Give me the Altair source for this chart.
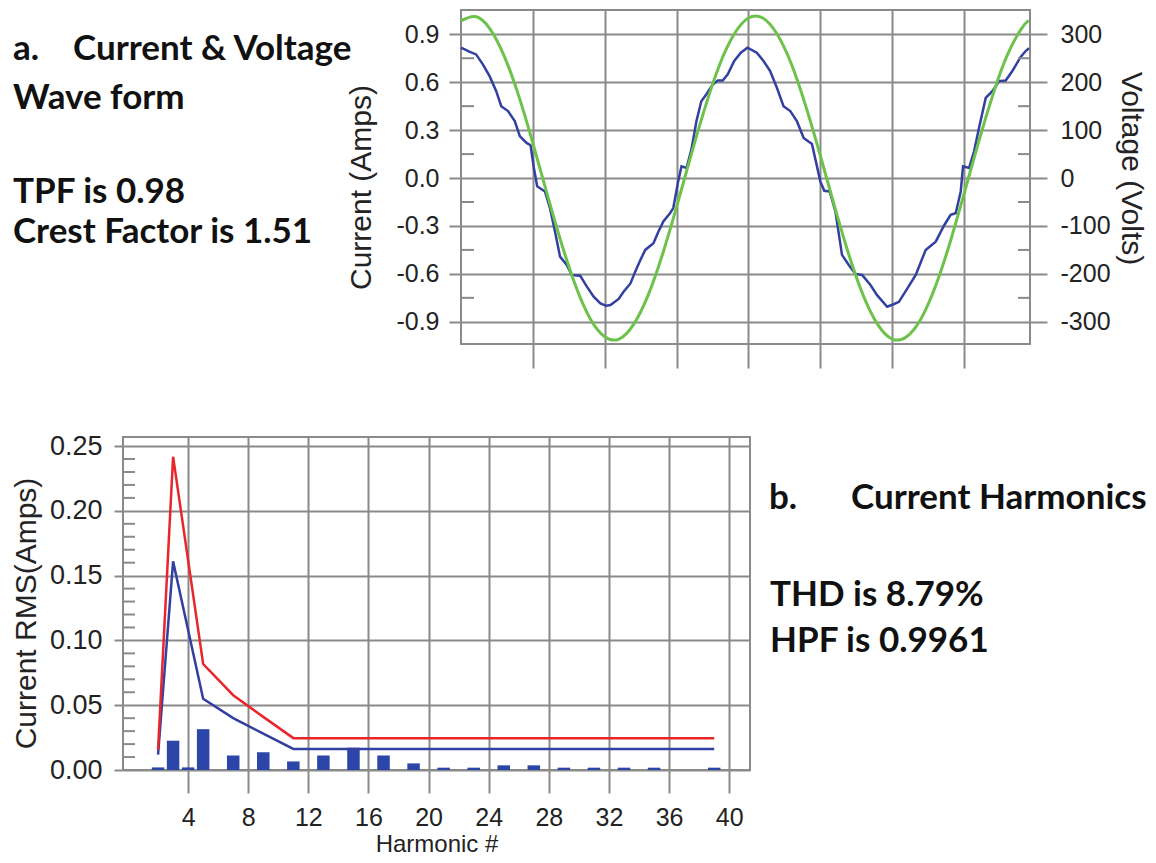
import altair as alt
import pandas as pd

# ---------------- data ----------------
# (a) current waveform: time (ms) and current (A)
t_current_ms = [0.0, 0.58, 1.05, 1.52, 1.99, 2.45, 2.80, 3.27, 3.74, 4.09, 4.56, 4.84,
                5.07, 5.30, 5.84, 6.19, 6.54, 6.89, 7.36, 7.71, 8.29, 8.76, 9.23, 9.70,
                10.1, 10.4, 10.97, 11.31, 11.79, 12.12, 12.48, 12.82, 13.39, 13.74, 14.08,
                14.54, 14.77, 15.11, 15.34, 15.69, 16.03, 16.38, 16.72, 17.06, 17.52, 17.87,
                18.21, 18.56, 19.01, 19.47, 19.93, 20.58, 21.05, 21.51, 21.98, 22.44, 22.91,
                23.37, 23.84, 24.42, 25.0, 25.28, 25.65, 26.05, 26.51, 26.98, 27.44, 27.91,
                28.49, 28.95, 29.65, 30.1, 30.47, 31.06, 31.64, 32.33, 33.03, 33.61, 34.07,
                34.42, 34.77, 34.93, 35.35, 35.7, 36.04, 36.51, 36.97, 37.44, 37.9, 38.36,
                38.94, 39.29, 39.52]
current_amps = [0.816, 0.791, 0.774, 0.712, 0.638, 0.544, 0.45, 0.419, 0.356, 0.262, 0.22, 0.205,
                0.063, -0.052, -0.084, -0.188, -0.335, -0.492, -0.544, -0.607, -0.611, -0.68, -0.743, -0.785,
                -0.80, -0.795, -0.757, -0.712, -0.66, -0.586, -0.513, -0.45, -0.408, -0.335, -0.272,
                -0.22, -0.188, -0.021, 0.073, 0.063, 0.178, 0.356, 0.481, 0.523, 0.586, 0.611,
                0.611, 0.649, 0.733, 0.785, 0.816, 0.785, 0.733, 0.67, 0.565, 0.45, 0.419,
                0.356, 0.251, 0.213, -0.021, -0.08, -0.084, -0.209, -0.481, -0.544, -0.6, -0.607,
                -0.67, -0.733, -0.806, -0.79, -0.775, -0.691, -0.607, -0.45, -0.398, -0.297, -0.23,
                -0.22, -0.084, 0.073, 0.063, 0.167, 0.314, 0.502, 0.544, 0.607, 0.611, 0.67,
                0.758, 0.795, 0.812]

# (a) voltage waveform: time (ms) and voltage (V)
t_voltage_ms = [0, 1, 2, 3, 4, 5, 6, 7, 8, 9, 10, 11, 12, 13, 14, 15, 16, 17, 18, 19,
                20, 21, 22, 23, 24, 25, 26, 27, 28, 29, 30, 31, 32, 33, 34, 35, 36, 37, 38, 39, 39.5]
voltage_volts = [328, 337, 312, 255, 173, 73, -34, -137, -227, -294, -331, -336, -306, -246, -161,
                 -60, 47, 149, 237, 300, 334, 334, 300, 237, 149, 47, -60, -161, -246, -306,
                 -336, -331, -294, -227, -137, -33, 74, 173, 256, 312, 329]

# (b) harmonic spectrum
harmonic_bar = [2, 3, 4, 5, 7, 9, 11, 13, 15, 17, 19, 21, 23, 25, 27, 29, 31, 33, 35, 39]
rms_bar = [0.002, 0.0226, 0.002, 0.0315, 0.0112, 0.0137, 0.0066, 0.0112, 0.0172, 0.0112,
           0.0051, 0.0018, 0.0018, 0.0036, 0.0036, 0.0018, 0.0018, 0.0018, 0.0018, 0.0018]

harmonic_line = [2, 3, 5, 7, 9, 11, 13, 15, 17, 19, 21, 23, 25, 27, 29, 31, 33, 35, 37, 39]
rms_red = [0.0157, 0.2418, 0.0818, 0.0577, 0.041, 0.0246, 0.0246, 0.0246, 0.0246, 0.0246,
           0.0246, 0.0246, 0.0246, 0.0246, 0.0246, 0.0246, 0.0246, 0.0246, 0.0246, 0.0246]
rms_blue = [0.0119, 0.161, 0.055, 0.040, 0.028, 0.0163, 0.0163, 0.0163, 0.0163, 0.0163,
            0.0163, 0.0163, 0.0163, 0.0163, 0.0163, 0.0163, 0.0163, 0.0163, 0.0163, 0.0163]

# tick values
current_ticks = [-0.9, -0.6, -0.3, 0.0, 0.3, 0.6, 0.9]
current_minor = [-0.75, -0.45, -0.15, 0.15, 0.45, 0.75]
voltage_ticks = [-300, -200, -100, 0, 100, 200, 300]
voltage_minor = [-250, -150, -50, 50, 150, 250]
time_ticks = [5, 10, 15, 20, 25, 30, 35]
harmonic_ticks = [4, 8, 12, 16, 20, 24, 28, 32, 36, 40]
rms_ticks = [0.0, 0.05, 0.10, 0.15, 0.20, 0.25]
rms_minor = [0.01, 0.02, 0.03, 0.04, 0.06, 0.07, 0.08, 0.09, 0.11, 0.12, 0.13, 0.14,
             0.16, 0.17, 0.18, 0.19, 0.21, 0.22, 0.23, 0.24]

# annotation texts
text_a = ["a.", "Current & Voltage", "Wave form", "TPF is 0.98", "Crest Factor is 1.51"]
text_b = ["b.", "Current Harmonics", "THD is 8.79%", "HPF is 0.9961"]

# ---------------- styles / layout ----------------
GRID = "#8a8a8a"
INK = "#232323"
GREEN = "#6cc24a"
BLUE_LINE = "#3340a0"
BAR_BLUE = "#2b46a8"
RED = "#e8262b"
AX_FONT = "Liberation Sans"
TXT_FONT = "Lato"
TXT_SIZE = 35

W1, H1 = 569, 334      # waveform plot
W2, H2 = 627, 333      # harmonic plot
SPACER_A = 338
SPACER_B = 380

a_pos_x = [-110, -50, -110, -110, -110]
a_pos_y = [50, 50, 99, 193, 233]
b_pos_x = [19, 101, 20, 20]
b_pos_y = [72, 72, 169, 215]

MINUS = "replace(format(datum.value, '{f}'), '\u2212', '-')"


def text_panel(lines, xs, ys, w, h):
    layers = []
    for s, x, y in zip(lines, xs, ys):
        layers.append(
            alt.Chart(pd.DataFrame({"s": [s]}))
            .mark_text(font=TXT_FONT, fontSize=TXT_SIZE, fontWeight="bold", align="left",
                       baseline="alphabetic", color="#111111")
            .encode(x=alt.value(x), y=alt.value(y), text="s:N")
        )
    return alt.layer(*layers).properties(
        width=w, height=h, view=alt.ViewBackground(stroke="transparent"))


# ---------------- (a) waveform ----------------
cur_df = pd.DataFrame({"t": t_current_ms, "current": current_amps})
volt_df = pd.DataFrame({"t": t_voltage_ms, "voltage": voltage_volts})
cur_minor_df = pd.DataFrame({"current": current_minor})
volt_minor_df = pd.DataFrame({"voltage": voltage_minor})

x_time = alt.X("t:Q", scale=alt.Scale(domain=[0, 39.59], nice=False, zero=False),
               axis=alt.Axis(values=time_ticks, labels=False, title="", tickSize=24,
                             grid=True, domain=False))
y_cur = alt.Y("current:Q", scale=alt.Scale(domain=[-1.039, 1.052], nice=False, zero=False),
              axis=alt.Axis(values=current_ticks, labelExpr=MINUS.format(f=".1f"),
                            title="Current (Amps)", orient="left", tickSize=12, labelPadding=10,
                            labelFontSize=25, titleFontSize=30, titleAngle=270, titleX=-100,
                            titleY=177, titleBaseline="middle", grid=True, domain=False))
y_volt = alt.Y("voltage:Q", scale=alt.Scale(domain=[-346.3, 350.7], nice=False, zero=False),
               axis=alt.Axis(values=voltage_ticks, labelExpr=MINUS.format(f="d"),
                             title="Voltage (Volts)", orient="right", tickSize=17, labelPadding=13,
                             labelFontSize=25, titleFontSize=30, titleAngle=90, titleX=100,
                             titleY=158, titleBaseline="middle", grid=False, domain=False))

cur_line = alt.Chart(cur_df).mark_line(color=BLUE_LINE, strokeWidth=2.5).encode(x=x_time, y=y_cur)
cur_minor = alt.Chart(cur_minor_df).mark_rule(color=GRID, strokeWidth=2).encode(
    y=y_cur, x=alt.value(0), x2=alt.value(13))
volt_line = alt.Chart(volt_df).mark_line(color=GREEN, strokeWidth=3, interpolate="natural").encode(
    x=x_time, y=y_volt)
volt_minor = alt.Chart(volt_minor_df).mark_rule(color=GRID, strokeWidth=2).encode(
    y=y_volt, x=alt.value(W1 - 12), x2=alt.value(W1))

wave = alt.layer(
    alt.layer(cur_minor, cur_line),
    alt.layer(volt_line, volt_minor),
).resolve_scale(y="independent").properties(width=W1, height=H1)

# ---------------- (b) harmonics ----------------
bar_df = pd.DataFrame({"h": harmonic_bar, "rms": rms_bar})
red_df = pd.DataFrame({"h": harmonic_line, "rms": rms_red})
blue_df = pd.DataFrame({"h": harmonic_line, "rms": rms_blue})
rms_minor_df = pd.DataFrame({"rms": rms_minor})

x_h = alt.X("h:Q", scale=alt.Scale(domain=[0, 41.05], nice=False, zero=False),
            axis=alt.Axis(values=harmonic_ticks, title="Harmonic #", tickSize=23, labelPadding=32,
                          labelBaseline="alphabetic", labelFontSize=25, titleFontSize=24,
                          titleY=81, titleBaseline="alphabetic", grid=True, domain=False))
y_rms = alt.Y("rms:Q", scale=alt.Scale(domain=[0, 0.257], nice=False, zero=False),
              axis=alt.Axis(values=rms_ticks, format=".2f", title="Current RMS(Amps)",
                            tickSize=9, labelPadding=12, labelFontSize=27, titleFontSize=30,
                            titleAngle=270, titleX=-97, titleY=176, titleBaseline="middle",
                            grid=True, domain=False))

bars = alt.Chart(bar_df).mark_bar(size=12.5, color=BAR_BLUE).encode(x=x_h, y=y_rms)
blue_l = alt.Chart(blue_df).mark_line(color=BLUE_LINE, strokeWidth=2.5).encode(x=x_h, y=y_rms)
red_l = alt.Chart(red_df).mark_line(color=RED, strokeWidth=2.5).encode(x=x_h, y=y_rms)
rms_minor_r = alt.Chart(rms_minor_df).mark_rule(color=GRID, strokeWidth=2).encode(
    y=y_rms, x=alt.value(0), x2=alt.value(12))

harm = alt.layer(rms_minor_r, bars, blue_l, red_l).properties(width=W2, height=H2)

# ---------------- assemble ----------------
panel_a = text_panel(text_a, a_pos_x, a_pos_y, SPACER_A, H1)
panel_b = text_panel(text_b, b_pos_x, b_pos_y, SPACER_B, H2)

row_a = alt.hconcat(panel_a, wave, spacing=0, bounds="flush")
row_b = alt.hconcat(harm, panel_b, spacing=0, bounds="flush")

chart = alt.vconcat(
    row_a, row_b,
    spacing=427,
    bounds="flush",
    padding={"left": 2, "top": 0, "right": 0, "bottom": 0},
    background="white",
).configure_view(
    stroke=GRID, strokeWidth=2
).configure_axis(
    labelFont=AX_FONT, titleFont=AX_FONT, labelColor=INK, titleColor=INK,
    titleFontWeight="normal", gridColor=GRID, gridWidth=2, tickColor=GRID, tickWidth=2,
)

chart.save("out.html", embed_options={"renderer": "svg", "actions": False})
